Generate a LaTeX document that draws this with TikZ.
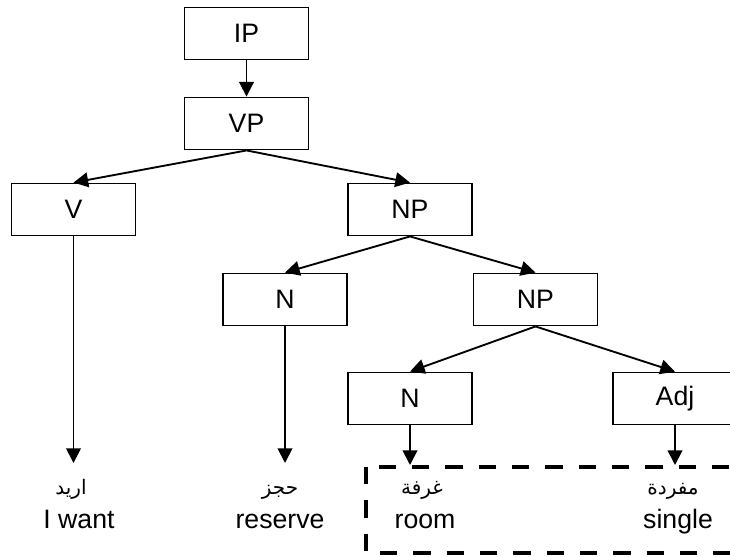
\documentclass[tikz,border=0pt]{standalone}
\usepackage{fontspec}
\setmainfont{Liberation Sans}
\newfontfamily\arabicfont[Script=Arabic]{DejaVu Sans}
\TeXXeTstate=1
\usepackage{tikz}
\usetikzlibrary{shapes,arrows,arrows.meta,positioning,calc}

\begin{document}
\begin{tikzpicture}[
    x=0.75pt, y=-0.75pt,
    cat/.style={rectangle, draw=black, line width=1.4pt, inner sep=0pt,
                minimum width=93pt, minimum height=39pt, font=\fontsize{20}{24}\selectfont},
    link/.style={-{Triangle[length=11pt,width=11pt]}, line width=1.4pt},
    word/.style={anchor=base, inner sep=0pt, font=\fontsize{20}{24}\selectfont},
    arab/.style={anchor=base, inner sep=0pt, font=\arabicfont\fontsize{15}{18}\selectfont}
]
\useasboundingbox (0,0) rectangle (730,556);

\node[cat] (ip) at (246.5, 33.5) {IP};
\node[cat] (vp) at (246.5, 123.5) {VP};
\node[cat] (v) at (73.5, 209.5) {V};
\node[cat] (np) at (410, 209.5) {NP};
\node[cat] (nres) at (285, 299.5) {N};
\node[cat] (nps) at (535.5, 299.5) {NP};
\node[cat] (nroom) at (410, 398.5) {N};
\node[cat] (adj) at (675, 398.5) {Adj};

% Branches
\draw[link] (ip.south) -- (vp.north);
\draw[link] (vp.south) -- (v.north);
\draw[link] (vp.south) -- (np.north);
\draw[link] (np.south) -- (nres.north);
\draw[link] (np.south) -- (nps.north);
\draw[link] (nps.south) -- (nroom.north);
\draw[link] (nps.south) -- (adj.north);

% Words
\node[arab] (want-ar) at (71, 494) {\beginR اريد\endR};
\node[word] (want) at (79, 528) {I want};
\node[arab] (reserve-ar) at (280, 494) {\beginR حجز\endR};
\node[word] (reserve) at (280, 528) {reserve};
\node[arab] (room-ar) at (422, 494) {\beginR غرفة\endR};
\node[word] (room) at (425, 528) {room};
\node[arab] (single-ar) at (673, 494) {\beginR مفردة\endR};
\node[word] (single) at (678, 528) {single};

\coordinate (want-in) at (v.south |- 0, 463);
\coordinate (reserve-in) at (nres.south |- 0, 463);
\coordinate (room-in) at (nroom.south |- 0, 465);
\coordinate (single-in) at (adj.south |- 0, 465);
\draw[link] (v.south) -- (want-in);
\draw[link] (nres.south) -- (reserve-in);
\draw[link] (nroom.south) -- (room-in);
\draw[link] (adj.south) -- (single-in);

% Target phrase
\draw[line width=2.6pt, dash pattern=on 13pt off 12pt] (366, 467) rectangle (745, 553);

\end{tikzpicture}
\end{document}
